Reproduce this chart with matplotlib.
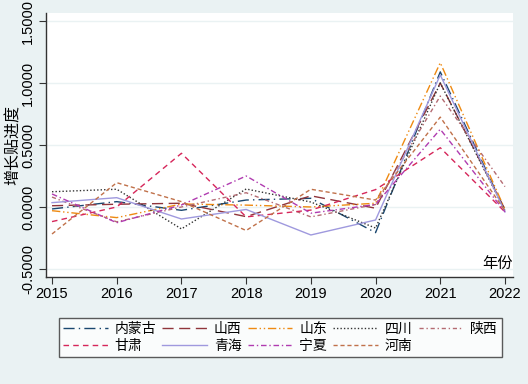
import numpy as np
import matplotlib
matplotlib.use('Agg')
import matplotlib.pyplot as plt

plt.rcParams['font.family'] = ['Liberation Sans', 'Noto Sans CJK SC', 'DejaVu Sans']

years = [2015, 2016, 2017, 2018, 2019, 2020, 2021, 2022]

# 各省增长贴进度
neimenggu = [-0.016, 0.043, -0.027, 0.056, 0.070, -0.207, 1.090, -0.030]
shanxi    = [0.010, 0.022, 0.030, -0.078, 0.090, -0.010, 1.000, -0.020]
shandong  = [-0.030, -0.086, 0.024, 0.015, 0.000, 0.030, 1.164, -0.020]
sichuan   = [0.123, 0.143, -0.177, 0.145, 0.040, -0.170, 1.000, -0.030]
shaanxi   = [0.080, -0.120, 0.000, 0.115, -0.080, 0.020, 0.895, 0.164]
gansu     = [-0.118, 0.000, 0.433, -0.080, -0.025, 0.140, 0.478, -0.040]
qinghai   = [0.035, 0.075, -0.097, -0.020, -0.226, -0.105, 1.065, -0.040]
ningxia   = [0.105, -0.127, 0.016, 0.250, -0.050, 0.020, 0.627, -0.040]
henan     = [-0.218, 0.196, 0.043, -0.190, 0.143, 0.056, 0.725, -0.030]

names = ['内蒙古', '山西', '山东', '四川', '陕西', '甘肃', '青海', '宁夏', '河南']
series = [neimenggu, shanxi, shandong, sichuan, shaanxi, gansu, qinghai, ningxia, henan]
colors = ['#1a476f', '#90353b', '#ee8a12', '#333333', '#b46b72',
          '#d6265a', '#9f99de', '#b03bb0', '#c0714a']
styles = [(0, (8, 3, 1, 3)), (0, (8, 4)), (0, (6, 2, 1, 2, 1, 2)), (0, (1, 1.5)),
          (0, (3, 2, 1, 2)), (0, (4, 3)), '-', (0, (4, 2, 1, 2)), (0, (3, 2))]

bg = '#eaf2f3'
fig = plt.figure(figsize=(5.28, 3.84), dpi=100, facecolor=bg)
ax = fig.add_axes([46/528, 1-277/384, (513-46)/528, (277-13)/384])
ax.set_facecolor('white')

handles = []
for name, s, c, ls in zip(names, series, colors, styles):
    h, = ax.plot(years, s, color=c, linestyle=ls, linewidth=1.0, label=name)
    handles.append(h)

ax.set_xlim(2014.907, 2022.124)
ax.set_ylim(-0.565, 1.565)
ax.set_xticks(years)
ax.set_yticks([-0.5, 0, 0.5, 1.0, 1.5])
ax.set_yticklabels(['-0.5000', '0.0000', '0.5000', '1.0000', '1.5000'],
                   rotation=90, va='center', fontsize=10.5)
ax.tick_params(axis='x', labelsize=10.5, length=5, color='#333333', pad=2)
ax.tick_params(axis='y', length=5, color='#333333', pad=3)
ax.yaxis.grid(True, color=bg, linewidth=1.0)
ax.set_axisbelow(True)
for sp in ['top', 'right']:
    ax.spines[sp].set_visible(False)
for sp in ['left', 'bottom']:
    ax.spines[sp].set_color('#333333')
    ax.spines[sp].set_linewidth(1.0)

ax.set_ylabel('增长贴进度', fontsize=11.5, family=['Noto Sans CJK SC'])
ax.yaxis.set_label_coords(-0.051, 0.5)
ax.text(1.0, 0.02, '年份', transform=ax.transAxes, ha='right', va='bottom',
        fontsize=11, family=['Noto Sans CJK SC'])

# 图例按行排列：matplotlib按列填充，所以重新排序
order = [0, 5, 1, 6, 2, 7, 3, 8, 4]
leg = fig.legend([handles[i] for i in order], [names[i] for i in order],
                 loc='lower left', bbox_to_anchor=(52/528, 1-364/384, (509-52)/528, 42/384),
                 mode='expand', ncol=5, frameon=True, fancybox=False,
                 handlelength=3.2, handletextpad=0.5, columnspacing=0.8,
                 borderpad=0.3, labelspacing=0.2,
                 prop={'family': ['Noto Sans CJK SC'], 'size': 10})
leg.get_frame().set_edgecolor('#333333')
leg.get_frame().set_linewidth(1.0)

fig.savefig('out.png', dpi=100, facecolor=bg)
